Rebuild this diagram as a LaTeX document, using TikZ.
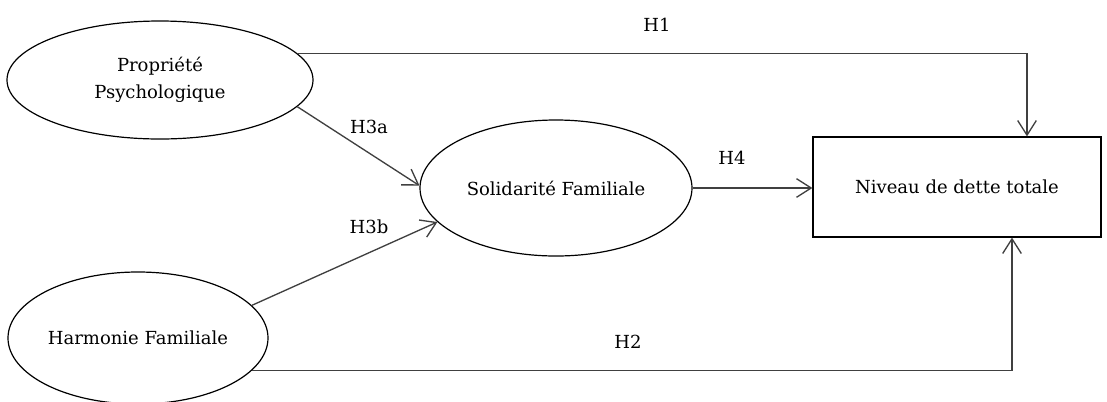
\documentclass[tikz,border=0pt]{standalone}
\usepackage{fontspec}
\setmainfont{DejaVu Serif}
\usetikzlibrary{shapes.geometric,arrows.meta}

\begin{document}
\begin{tikzpicture}[x=0.75pt,y=-0.75pt,
        testo/.style={font=\fontsize{13.5}{20}\selectfont},
        var/.style={testo,draw,ellipse,line width=0.9pt,inner sep=0pt,align=center},
        blocco/.style={testo,draw,rectangle,line width=0.9pt,inner sep=0pt},
        freccia/.style={-{Straight Barb[length=11pt,width=14pt]},line width=1pt,draw=black!75}]
        \useasboundingbox (0,0) rectangle (1107,401);

        %%%%%%%%%% Nodi %%%%%%%%%%
        \node[var,minimum width=229.5pt,minimum height=88.5pt] (prop) at (160,80) {Propriété\\Psychologique};
        \node[var,minimum width=204pt,minimum height=102pt] (solid) at (556,188) {Solidarité Familiale};
        \node[var,minimum width=195pt,minimum height=99pt] (harm) at (138,338) {Harmonie Familiale};
        \node[blocco,minimum width=216pt,minimum height=75pt] (dette) at (957,187) {Niveau de dette totale};

        %%%%%%%%% Frecce %%%%%%%%%
        \draw[freccia] (prop.11) -| (dette.north -| 1027,0);
        \draw[freccia] (harm.-16) -| (dette.south -| 1012,0);
        \draw[freccia] (prop.-11) -- (solid.179);
        \draw[freccia] (harm.16) -- (solid.196);
        \draw[freccia] (solid.east) -- (solid.east -| dette.west);

        %%%%%%%%% Ipotesi %%%%%%%%%
        \node[testo] (h1) at (657,25) {H1};
        \node[testo] (h2) at (628,342) {H2};
        \node[testo] (h3a) at (369,127) {H3a};
        \node[testo] (h3b) at (369,227) {H3b};
        \node[testo] (h4) at (732,158) {H4};
    \end{tikzpicture}
\end{document}
